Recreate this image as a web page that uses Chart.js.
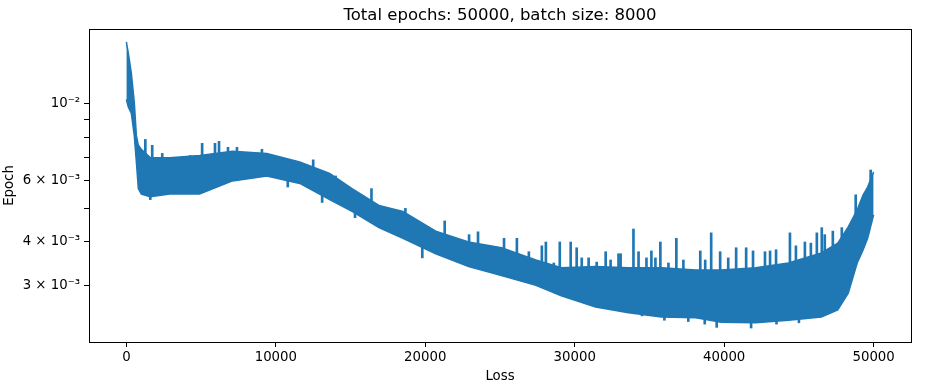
<!DOCTYPE html>
<html>
<head>
<meta charset="utf-8">
<script src="https://cdn.jsdelivr.net/npm/chart.js@4.4.1/dist/chart.umd.min.js"></script>
<style>
  body { margin: 0; background: #fff; }
  #wrap { width: 925px; height: 385px; }
</style>
</head>
<body>
<div id="wrap"><canvas id="graph" width="925" height="385"></canvas></div>
<script>
const chartTitle = "Total epochs: 50000, batch size: 8000";

// noisy loss band: top and bottom edge of the trace
const bandEpochs = [0, 130, 330, 530, 670, 800, 1000, 1600, 2900, 4900, 7100, 9400, 11600, 13600, 15100, 16900, 18500, 20700, 22900, 25100, 27400, 29100, 31400, 33600, 35800, 38100, 39800, 42100, 44300, 46500, 47600, 48300, 48900, 49300, 49600, 49999];
const bandUpper = [0.0151, 0.0140, 0.0123, 0.0101, 0.0081, 0.0076, 0.0074, 0.0070, 0.0070, 0.0071, 0.0073, 0.0072, 0.0068, 0.0063, 0.0057, 0.0051, 0.0049, 0.0043, 0.0040, 0.00385, 0.00355, 0.00337, 0.0034, 0.00337, 0.00337, 0.00332, 0.00332, 0.00337, 0.00348, 0.00372, 0.00397, 0.00442, 0.00495, 0.00547, 0.00576, 0.00637];
const bandLower = [0.0103, 0.0098, 0.0094, 0.0081, 0.0068, 0.0057, 0.0055, 0.0054, 0.0055, 0.0055, 0.0060, 0.0062, 0.0059, 0.0053, 0.0049, 0.0044, 0.0041, 0.0037, 0.0034, 0.0032, 0.0030, 0.0028, 0.0026, 0.0025, 0.00243, 0.00242, 0.00235, 0.00234, 0.00238, 0.00243, 0.00255, 0.00285, 0.00348, 0.0038, 0.0041, 0.00479];

// single spikes sticking out of the band (up and down)
const spikeEpochs = [1270, 1600, 1730, 2400, 4270, 5070, 5930, 6200, 6800, 7400, 9070, 9800, 10800, 12500, 13100, 14000, 15300, 16400, 18670, 19800, 21300, 22930, 23530, 25270, 26130, 26930, 27800, 28070, 28600, 29000, 29730, 30130, 30470, 30930, 31470, 32070, 32400, 32930, 33070, 33930, 34270, 34500, 34800, 35130, 35400, 35730, 36000, 36270, 36800, 37270, 37600, 38400, 38700, 38730, 39130, 39500, 39730, 40270, 40800, 41470, 41800, 41930, 42730, 43070, 43470, 43500, 44400, 44800, 45000, 45400, 45800, 46200, 46530, 46730, 47270, 47870, 48800, 49800];
const spikeLow = [0.0064, 0.0053, 0.0064, 0.0064, 0.0064, 0.0064, 0.0066, 0.0068, 0.0068, 0.0068, 0.0068, 0.0066, 0.00576, 0.0065, 0.0052, 0.0058, 0.0047, 0.0052, 0.0045, 0.0036, 0.0042, 0.0037, 0.0037, 0.0035, 0.0034, 0.0033, 0.0032, 0.0032, 0.0031, 0.0031, 0.0031, 0.0030, 0.0030, 0.0030, 0.0030, 0.0030, 0.0030, 0.0029, 0.0029, 0.0029, 0.0029, 0.00245, 0.0029, 0.0029, 0.0029, 0.0029, 0.00238, 0.0029, 0.0029, 0.0029, 0.00236, 0.0029, 0.00232, 0.0029, 0.0029, 0.00227, 0.0029, 0.0029, 0.0029, 0.0029, 0.00226, 0.0029, 0.0029, 0.0029, 0.0029, 0.00232, 0.0029, 0.0029, 0.00234, 0.0030, 0.0030, 0.0030, 0.0030, 0.0030, 0.0031, 0.0032, 0.0040, 0.0050];
const spikeHigh = [0.0079, 0.0060, 0.0076, 0.0072, 0.0071, 0.0077, 0.0077, 0.0078, 0.0075, 0.0075, 0.0074, 0.0071, 0.0064, 0.0069, 0.0060, 0.0062, 0.0051, 0.0057, 0.0050, 0.0042, 0.0046, 0.0042, 0.00428, 0.0041, 0.0041, 0.00375, 0.0039, 0.0040, 0.00348, 0.0040, 0.0040, 0.00385, 0.0036, 0.0036, 0.0035, 0.00375, 0.00355, 0.0037, 0.0037, 0.00436, 0.00375, 0.0028, 0.0036, 0.00377, 0.0036, 0.0040, 0.0028, 0.00348, 0.0041, 0.00355, 0.0028, 0.00377, 0.0028, 0.00355, 0.00425, 0.0028, 0.00375, 0.0036, 0.00385, 0.00385, 0.0028, 0.00377, 0.00375, 0.00377, 0.0038, 0.0028, 0.00425, 0.0039, 0.0028, 0.0040, 0.00397, 0.00425, 0.0044, 0.0042, 0.0043, 0.0044, 0.00547, 0.00645];

const xTicks = [0, 10000, 20000, 30000, 40000, 50000];
const yTicks = [0.003, 0.004, 0.005, 0.006, 0.007, 0.008, 0.009, 0.01];
const yTickLabels = ["3 \u00d7 10\u207b\u00b3", "4 \u00d7 10\u207b\u00b3", "", "6 \u00d7 10\u207b\u00b3", "", "", "", "10\u207b\u00b2"];

const blue = "#1f77b4";
const fontFamily = "'DejaVu Sans', sans-serif";

// matplotlib style frame + centred title over the plot area
const framePlugin = {
  id: "frame",
  afterDraw(chart) {
    const { ctx, chartArea: a } = chart;
    ctx.save();
    ctx.strokeStyle = "#000";
    ctx.lineWidth = 1;
    ctx.strokeRect(Math.round(a.left) + 0.5, Math.round(a.top) + 0.5, Math.round(a.right - a.left), Math.round(a.bottom - a.top));
    ctx.fillStyle = "#000";
    ctx.font = "16.5px " + fontFamily;
    ctx.textAlign = "center";
    ctx.textBaseline = "alphabetic";
    ctx.fillText(chartTitle, (a.left + a.right) / 2, 20);
    ctx.restore();
  },
};

const ctx = document.getElementById("graph").getContext("2d");
new Chart(ctx, {
  data: {
    datasets: [
      {
        type: "line",
        data: bandEpochs.map((e, i) => ({ x: e, y: bandLower[i] })),
        borderColor: blue,
        borderWidth: 1.5,
        pointRadius: 0,
        fill: false,
      },
      {
        type: "line",
        data: bandEpochs.map((e, i) => ({ x: e, y: bandUpper[i] })),
        borderColor: blue,
        backgroundColor: blue,
        borderWidth: 1.5,
        pointRadius: 0,
        fill: "-1",
      },
      {
        type: "bar",
        data: spikeEpochs.map((e, i) => ({ x: e, y: [spikeLow[i], spikeHigh[i]] })),
        backgroundColor: blue,
        borderWidth: 0,
        barThickness: 2,
      },
    ],
  },
  options: {
    responsive: false,
    animation: false,
    devicePixelRatio: 1,
    layout: { padding: { top: 29, right: 14, left: 0, bottom: 0 } },
    plugins: { legend: { display: false }, tooltip: { enabled: false }, title: { display: false } },
    scales: {
      x: {
        type: "linear",
        offset: false,
        min: -2500,
        max: 52500,
        afterBuildTicks: (scale) => { scale.ticks = xTicks.map((v) => ({ value: v })); },
        afterFit: (scale) => { scale.height = 43; },
        grid: { display: true, offset: false, drawOnChartArea: false, drawTicks: true, tickLength: 5, color: "#000" },
        border: { display: false },
        ticks: {
          autoSkip: false,
          maxRotation: 0,
          padding: 3,
          color: "#000",
          font: { family: fontFamily, size: 13.3 },
          callback: (value) => String(value),
        },
        title: { display: true, text: "Loss", color: "#000", padding: 0, font: { family: fontFamily, size: 13.3 } },
      },
      y: {
        type: "logarithmic",
        min: 0.00206,
        max: 0.01644,
        afterBuildTicks: (scale) => { scale.ticks = yTicks.map((v) => ({ value: v })); },
        afterFit: (scale) => { scale.width = 89; },
        grid: { display: true, drawOnChartArea: false, drawTicks: true, tickLength: 5, color: "#000" },
        border: { display: false },
        ticks: {
          autoSkip: false,
          padding: 4,
          color: "#000",
          font: { family: fontFamily, size: 13.3 },
          callback: (value) => yTickLabels[yTicks.indexOf(value)] ?? "",
        },
        title: { display: true, text: "Epoch", color: "#000", padding: { top: 2, bottom: 0 }, font: { family: fontFamily, size: 13.3 } },
      },
    },
  },
  plugins: [framePlugin],
});
</script>
</body>
</html>
